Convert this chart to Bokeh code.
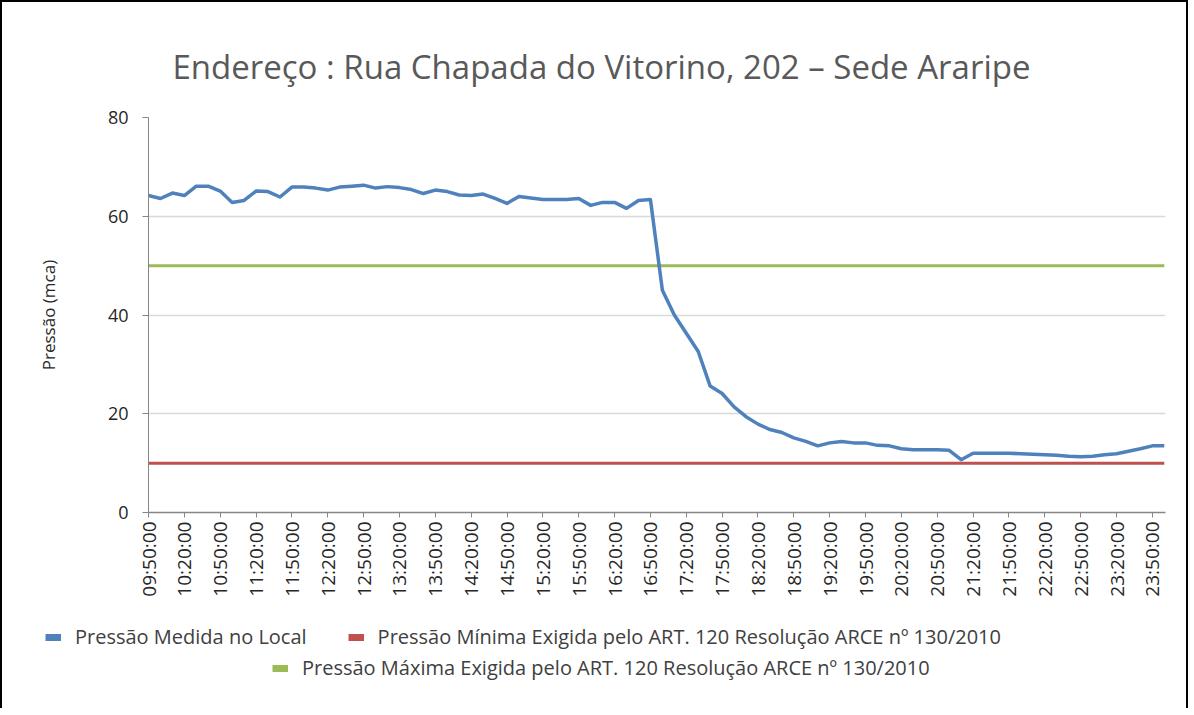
import math
from bokeh.plotting import figure
from bokeh.layouts import column, row
from bokeh.models import Range1d, FixedTicker, Legend, LegendItem, ColumnDataSource
from bokeh.embed import file_html
from bokeh.resources import INLINE

# ---------------- data ----------------
times = [
    "09:50:00",
    "10:00:00", "10:10:00", "10:20:00", "10:30:00", "10:40:00", "10:50:00",
    "11:00:00", "11:10:00", "11:20:00", "11:30:00", "11:40:00", "11:50:00",
    "12:00:00", "12:10:00", "12:20:00", "12:30:00", "12:40:00", "12:50:00",
    "13:00:00", "13:10:00", "13:20:00", "13:30:00", "13:40:00", "13:50:00",
    "14:00:00", "14:10:00", "14:20:00", "14:30:00", "14:40:00", "14:50:00",
    "15:00:00", "15:10:00", "15:20:00", "15:30:00", "15:40:00", "15:50:00",
    "16:00:00", "16:10:00", "16:20:00", "16:30:00", "16:40:00", "16:50:00",
    "17:00:00", "17:10:00", "17:20:00", "17:30:00", "17:40:00", "17:50:00",
    "18:00:00", "18:10:00", "18:20:00", "18:30:00", "18:40:00", "18:50:00",
    "19:00:00", "19:10:00", "19:20:00", "19:30:00", "19:40:00", "19:50:00",
    "20:00:00", "20:10:00", "20:20:00", "20:30:00", "20:40:00", "20:50:00",
    "21:00:00", "21:10:00", "21:20:00", "21:30:00", "21:40:00", "21:50:00",
    "22:00:00", "22:10:00", "22:20:00", "22:30:00", "22:40:00", "22:50:00",
    "23:00:00", "23:10:00", "23:20:00", "23:30:00", "23:40:00", "23:50:00",
    "00:00:00",
]

pressao_medida = [
    64.2, 63.6, 64.7, 64.2, 66.1, 66.1, 65.1, 62.8, 63.2, 65.1,
    65.0, 63.9, 65.9, 65.9, 65.7, 65.3, 65.9, 66.1, 66.3, 65.7,
    66.0, 65.8, 65.4, 64.6, 65.3, 65.0, 64.3, 64.2, 64.5, 63.6,
    62.6, 64.0, 63.7, 63.4, 63.4, 63.4, 63.6, 62.2, 62.8, 62.8,
    61.6, 63.2, 63.4, 45.0, 40.0, 36.3, 32.6, 25.6, 24.1, 21.4,
    19.4, 17.9, 16.8, 16.2, 15.1, 14.4, 13.5, 14.1, 14.4, 14.1,
    14.1, 13.6, 13.5, 12.9, 12.7, 12.7, 12.7, 12.6, 10.7, 12.0,
    12.0, 12.0, 12.0, 11.9, 11.8, 11.7, 11.6, 11.4, 11.3, 11.4,
    11.7, 11.9, 12.4, 12.9, 13.5, 13.5,
]

pressao_minima_valor = 10
pressao_maxima_valor = 50

y_ticks = [0, 20, 40, 60, 80]

titulo = "Endereço : Rua Chapada do Vitorino, 202 – Sede Araripe"
rotulo_y = "Pressão (mca)"
leg_medida = "Pressão Medida no Local"
leg_minima = "Pressão Mínima Exigida pelo ART. 120 Resolução ARCE nº 130/2010"
leg_maxima = "Pressão Máxima Exigida pelo ART. 120 Resolução ARCE nº 130/2010"

COL_MED = "#4F81BD"
COL_MIN = "#C0504D"
COL_MAX = "#9BBB59"

# ---------------- build ----------------
n = len(times)
idx = list(range(n))
src = ColumnDataSource(dict(
    x=idx,
    medida=pressao_medida,
    minima=[pressao_minima_valor] * n,
    maxima=[pressao_maxima_valor] * n,
))

FONT = "Open Sans"

p = figure(width=1184, height=600, output_backend="svg", toolbar_location=None,
           x_range=Range1d(0, 85.1), y_range=Range1d(0, 80),
           min_border_left=146, min_border_right=21,
           min_border_top=115, min_border_bottom=90)
p.outline_line_color = None
p.background_fill_color = "white"
p.border_fill_color = "white"

# title
p.title.text = titulo
p.title.align = "left"
p.title.offset = 24
p.title.text_font = FONT
p.title.text_font_size = "33px"
p.title.text_font_style = "normal"
p.title.text_color = "#595959"
p.title.standoff = 57

p.xgrid.visible = False
p.ygrid.grid_line_color = "#d9d9d9"
p.ygrid.grid_line_width = 1.5

# y axis
p.yaxis.ticker = FixedTicker(ticks=y_ticks, minor_ticks=[])
p.yaxis.axis_line_color = "#868686"
p.yaxis.major_tick_line_color = "#868686"
p.yaxis.major_tick_out = 6
p.yaxis.major_tick_in = 0
p.yaxis.minor_tick_line_color = None
p.yaxis.major_label_text_font = FONT
p.yaxis.major_label_text_font_size = "18px"
p.yaxis.major_label_text_color = "#262626"
p.yaxis.major_label_standoff = 14
p.yaxis.axis_label = rotulo_y
p.yaxis.axis_label_text_font = FONT
p.yaxis.axis_label_text_font_size = "17px"
p.yaxis.axis_label_text_font_style = "normal"
p.yaxis.axis_label_text_color = "#262626"
p.yaxis.axis_label_text_align = "right"
p.yaxis.axis_label_standoff = 45

# x axis
tick_idx = list(range(0, n, 3))
p.xaxis.ticker = FixedTicker(ticks=tick_idx, minor_ticks=[])
p.xaxis.major_label_overrides = {i: times[i] for i in tick_idx}
p.xaxis.major_label_orientation = math.pi / 2
p.xaxis.axis_line_color = "#868686"
p.xaxis.axis_line_width = 1.5
p.xaxis.major_tick_line_color = "#868686"
p.xaxis.major_tick_out = 5
p.xaxis.major_tick_in = 0
p.xaxis.minor_tick_line_color = None
p.xaxis.major_label_text_font = FONT
p.xaxis.major_label_text_font_size = "19px"
p.xaxis.major_label_text_color = "#262626"
p.xaxis.major_label_standoff = 4

# lines
p.line("x", "maxima", source=src, line_color=COL_MAX, line_width=3)
p.line("x", "minima", source=src, line_color=COL_MIN, line_width=3)
p.line("x", "medida", source=src, line_color=COL_MED, line_width=3.5,
       line_join="round")

# ---------------- legend strip ----------------
q = figure(width=1184, height=106, output_backend="svg", toolbar_location=None,
           x_range=Range1d(0, 1), y_range=Range1d(0, 1),
           x_axis_type=None, y_axis_type=None, min_border=0)
q.outline_line_color = None
q.grid.visible = False
q.background_fill_color = "white"
q.border_fill_color = "white"

# legend-only swatch renderers (hidden, never drawn in the plot area)
nan = float("nan")
d_med = q.line(x=[nan], y=[nan], line_color=COL_MED, line_width=7, visible=False)
d_min = q.line(x=[nan], y=[nan], line_color=COL_MIN, line_width=7, visible=False)
d_max = q.line(x=[nan], y=[nan], line_color=COL_MAX, line_width=7, visible=False)


def style_legend(lg):
    lg.orientation = "horizontal"
    lg.border_line_color = None
    lg.background_fill_alpha = 0
    lg.inactive_fill_alpha = 0
    lg.padding = 0
    lg.margin = 0
    lg.spacing = 41
    lg.label_standoff = 14
    lg.glyph_width = 16
    lg.glyph_height = 20
    lg.label_text_font = FONT
    lg.label_text_font_size = "20px"
    lg.label_text_color = "#404040"


leg1 = Legend(items=[LegendItem(label=leg_medida, renderers=[d_med]),
                     LegendItem(label=leg_minima, renderers=[d_min])],
              location=(43, 58))
style_legend(leg1)
leg2 = Legend(items=[LegendItem(label=leg_maxima, renderers=[d_max])],
              location=(270, 27))
style_legend(leg2)
q.add_layout(leg1)
q.add_layout(leg2)

page = column(p, row(q, spacing=0), spacing=0,
              styles={"border-top": "2px solid black",
                      "border-left": "2px solid black",
                      "border-right": "2px solid black"})

open("out.html", "w").write(file_html(page, INLINE))
